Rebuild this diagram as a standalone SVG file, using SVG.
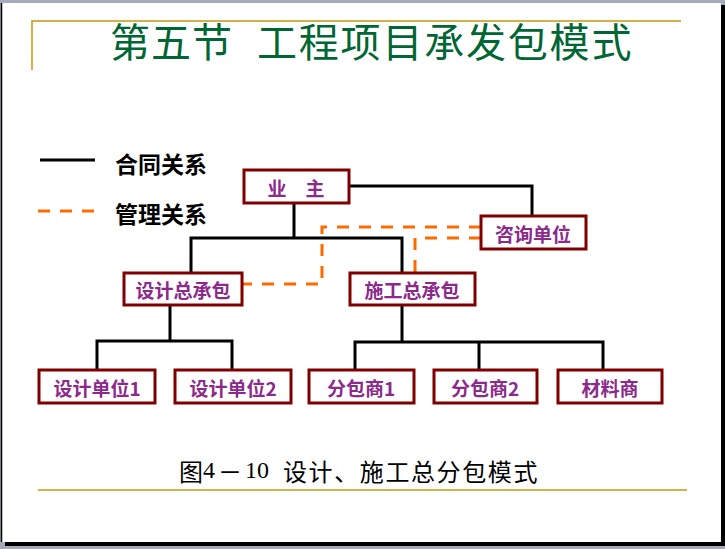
<svg xmlns="http://www.w3.org/2000/svg" width="725" height="549" viewBox="0 0 725 549">
  <style>
    .node rect { fill: #ffffff; stroke: #800000; stroke-width: 3; }
    .node text { font-family: "Noto Sans CJK SC", "Noto Sans", sans-serif; font-size: 19px; font-weight: bold; fill: #8B2A8B; text-anchor: middle; dominant-baseline: central; }
    .contract { fill: none; stroke: #000000; stroke-width: 3; }
    .manage { fill: none; stroke: #FF6A00; stroke-width: 3; stroke-dasharray: 12 10; }
    .legend { font-family: "Noto Sans CJK SC", "Noto Sans", sans-serif; font-size: 23px; font-weight: 600; fill: #000000; dominant-baseline: central; }
    .title { font-family: "Noto Sans CJK SC", "Noto Sans", sans-serif; font-size: 40px; fill: #006633; dominant-baseline: central; }
    .caption { font-family: "Noto Sans CJK SC", "Noto Sans", sans-serif; font-size: 24px; fill: #000000; dominant-baseline: central; }
    .gold { fill: none; stroke: #C8960C; stroke-width: 1.5; }
  </style>

  <!-- window frame -->
  <rect x="0" y="0" width="725" height="549" fill="#A3ABBB"/>
  <rect x="5" y="5" width="720" height="541" fill="#000000"/>
  <rect x="2" y="3" width="719" height="539" fill="#ffffff"/>
  <line x1="1.5" y1="3" x2="1.5" y2="542" stroke="#000000" stroke-width="1.5"/>

  <!-- decorative gold lines -->
  <polyline class="gold" points="32,70 32,21 681,21"/>
  <line class="gold" x1="38" y1="490" x2="687" y2="490"/>

  <!-- title -->
  <text class="title" y="40"><tspan x="110" letter-spacing="1">第五节</tspan><tspan x="257" letter-spacing="1.8">工程项目承发包模式</tspan></text>

  <!-- legend -->
  <g id="legend">
    <line x1="40" y1="160" x2="95" y2="160" stroke="#000000" stroke-width="3"/>
    <text class="legend" x="115" y="163">合同关系</text>
    <line x1="38" y1="211" x2="95" y2="211" class="manage"/>
    <text class="legend" x="115" y="213">管理关系</text>
  </g>

  <!-- connectors -->
  <g id="connectors">
    <polyline class="contract" points="294,203 294,238"/>
    <polyline class="contract" points="191,272 191,238 402,238 402,273"/>
    <polyline class="contract" points="349,186 532,186 532,216"/>
    <polyline class="contract" points="170,305 170,341"/>
    <polyline class="contract" points="97,370 97,341 232,341 232,370"/>
    <polyline class="contract" points="402,305 402,342"/>
    <polyline class="contract" points="355,370 355,342 603,342 603,370"/>
    <line class="contract" x1="479" y1="342" x2="479" y2="370"/>
    <polyline class="manage" points="481,227 322,227 322,284 243,284"/>
    <polyline class="manage" points="481,238 415,238 415,273"/>
  </g>

  <!-- nodes -->
  <g id="owner" class="node">
    <rect x="244" y="170" width="105" height="33"/>
    <text x="296" y="187">业　主</text>
  </g>
  <g id="consultant" class="node">
    <rect x="481" y="216" width="105" height="33"/>
    <text x="533" y="233">咨询单位</text>
  </g>
  <g id="design-general" class="node">
    <rect x="124" y="273" width="118" height="32"/>
    <text x="183" y="289">设计总承包</text>
  </g>
  <g id="construction-general" class="node">
    <rect x="350" y="273" width="125" height="32"/>
    <text x="412" y="289">施工总承包</text>
  </g>
  <g id="design-unit-1" class="node">
    <rect x="39" y="370" width="116" height="33"/>
    <text x="97" y="387">设计单位1</text>
  </g>
  <g id="design-unit-2" class="node">
    <rect x="175" y="370" width="116" height="33"/>
    <text x="233" y="387">设计单位2</text>
  </g>
  <g id="sub-1" class="node">
    <rect x="309" y="370" width="105" height="33"/>
    <text x="361" y="387">分包商1</text>
  </g>
  <g id="sub-2" class="node">
    <rect x="434" y="370" width="103" height="33"/>
    <text x="485" y="387">分包商2</text>
  </g>
  <g id="material" class="node">
    <rect x="558" y="370" width="104" height="33"/>
    <text x="610" y="387">材料商</text>
  </g>

  <!-- caption -->
  <text class="caption" y="470"><tspan x="179">图</tspan><tspan x="203" font-family="Liberation Serif, serif">4</tspan><tspan x="218">－</tspan><tspan x="245" font-family="Liberation Serif, serif">10</tspan><tspan x="283" letter-spacing="1.6">设计、施工总分包模式</tspan></text>
</svg>
